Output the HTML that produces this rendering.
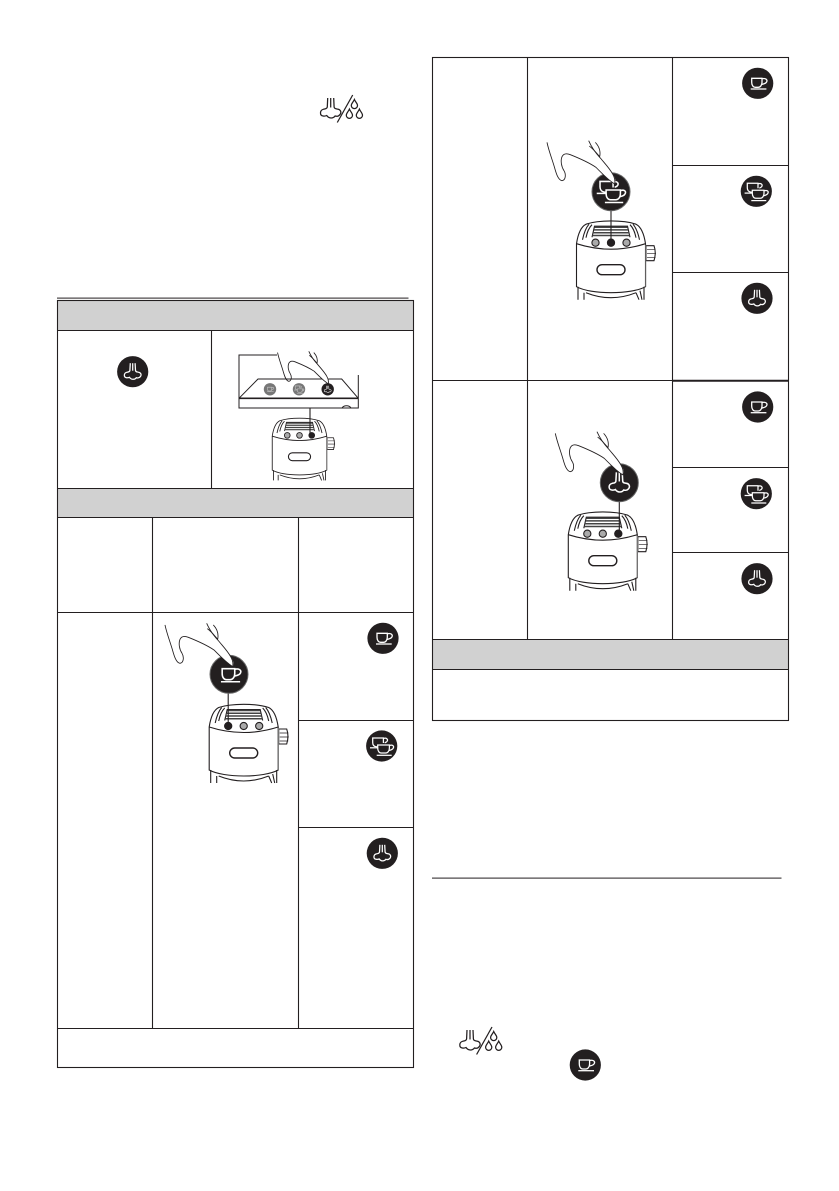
<!DOCTYPE html>
<html>
<head>
<meta charset="utf-8">
<style>
html,body{margin:0;padding:0;background:#fff}
svg{display:block}
</style>
</head>
<body>
<svg xmlns="http://www.w3.org/2000/svg" width="839" height="1191" viewBox="0 0 839 1191">
<defs>
  <g id="cupg" fill="none" stroke="#fff" stroke-width="1.3">
    <path d="M-6,-5 H4.3 V-1 C4.3,2 2.5,4 0.5,4 H-2.5 C-4.5,4 -6,2 -6,-1 Z"/>
    <path d="M4.3,-4.5 C8,-5.5 10,-3.5 9,-1.5 C8,0.5 6,0.5 3.8,1.2"/>
    <path d="M-7,5.7 H8.7"/>
  </g>
  <g id="dblg" fill="none" stroke="#fff" stroke-width="1.25">
    <path d="M1.7,-3 V-8 H-9 V-3.5 C-9,-1 -7.5,0.5 -5.5,0.8 H-4"/>
    <path d="M1.7,-7.5 C4.8,-8.5 6.4,-6.8 5.6,-5 C5,-3.8 4,-3.6 3,-3.2"/>
    <path d="M-11.7,1.8 H-3.5"/>
    <path d="M-4,-1 H7.7 V2 C7.7,5 6,7 4,7 H-0.5 C-2.5,7 -4,5 -4,2 Z"/>
    <path d="M7.7,-0.5 C10.8,-1.5 12.6,0 11.6,2 C10.8,3.8 9.2,4 7.2,4.5"/>
    <path d="M-5,9.3 H10"/>
  </g>
  <g id="steamg" fill="none" stroke="#fff" stroke-width="1.25">
    <path d="M-2.4,-8.5 L-2.8,-1.2 C-3,0.4 -4.5,0.2 -6,0.6 C-9,1.4 -9.2,5.6 -6.2,6 C-5,6.2 -4,6 -3.2,5.6 C-1.5,8.2 2,8.2 3.6,6 C4.8,6.4 6.6,6.2 7.6,5 C9.2,3 8,0.8 5.8,0.5 C4.4,0.2 3,0.4 2.8,-1.2 L2.4,-8.5"/>
    <path d="M0,-8.5 V-1"/>
  </g>
  <g id="icup"><circle r="15.6" fill="#231f20"/><use href="#cupg"/></g>
  <g id="idbl"><circle r="15.6" fill="#231f20"/><use href="#dblg"/></g>
  <g id="istm"><circle r="15.6" fill="#231f20"/><use href="#steamg"/></g>

  <g id="handp" fill="none" stroke="#231f20">
    <path d="M192,118 C212,138 226,156 248,170 C254,160 248,146 238,134 L218,112 Z" fill="#fff" stroke="none"/>
    <path d="M45,45 C50,70 62,100 68,122 C72,136 78,158 90,160 C102,158 102,140 96,130 C88,118 85,100 90,88 C95,78 105,78 115,82 C140,92 170,105 192,120 C210,138 226,156 248,170"/>
    <path d="M170,40 C178,58 190,76 205,92 C218,108 232,122 242,140 C248,150 250,160 248,170"/>
    <path d="M172,56 C180,62 190,72 203,88 C206,74 202,58 190,45"/>
  </g>
  <g id="hand" transform="scale(.3333) translate(-237,-193)" stroke-width="2.6"><use href="#handp"/></g>

  <g id="machine" fill="none" stroke="#231f20" stroke-width="1.1">
    <path d="M-34.5,23 C-33,13 -30,6 -25,3.5 C-12,-0.8 12,-0.8 25,3.5 C30,6 33,13 34.5,23 V66 C20,74 -20,74 -34.5,66 Z" fill="#fff"/>
    <path d="M-34.5,23 Q0,34 34.5,23"/>
    <path d="M-25,17 C-24,12 -22,7 -19,4 M25,17 C24,12 22,7 19,4 M-28.5,19 C-27,12 -25,7 -22,3.5 M28.5,19 C27,12 25,7 22,3.5"/>
    <path d="M-19,16.5 L-16.5,5.5 H16.5 L19,16.5"/>
    <g stroke="#444" stroke-width="1.5">
      <path d="M-16.5,6.5 H16.5 M-17,9.2 H17 M-18,12 H18 M-18.5,14.8 H18.5"/>
    </g>
    <circle cx="-15.5" cy="22" r="3.6" fill="#aaa"/>
    <circle cx="0" cy="22" r="3.6" fill="#aaa"/>
    <circle cx="15.5" cy="22" r="3.6" fill="#aaa"/>
    <rect x="-14" y="44" width="28" height="10" rx="5" stroke-width="1.4"/>
    <path d="M35,25 H43 Q45.5,32 43,40 H35 Z" fill="#fff"/>
    <path d="M36,29 H44.5 M36,33 H45 M36,37 H44.5" stroke-width=".7"/>
    <path d="M-33,66 V79 M33,66 V79 M-25,72 Q0,82 25,72 M-27,72 V79 M25,72 L28,79 M29,70 L31,79"/>
    <path d="M34.8,24 V66" stroke="#888" stroke-width=".8"/>
  </g>

  <g id="nozzledrops" fill="none" stroke="#231f20" stroke-width="1.25">
    <path d="M-3,-10.5 L-3.4,-1.6 C-3.6,0.4 -5.5,0.2 -7.4,0.8 C-11,1.8 -11.2,7 -7.6,7.5 C-6.2,7.7 -5,7.5 -4,7 C-1.8,10.2 2.4,10.2 4.4,7.5 C6,8 8,7.7 9.2,6.2 C11.2,3.8 9.8,1 7,0.6 C5.4,0.3 3.6,0.4 3.4,-1.6 L3,-10.5"/>
    <path d="M0,-10.5 V-1"/>
    <path d="M22,-13.5 L6.6,14"/>
    <path d="M23.7,-9 C24.8,-6.4 26.8,-5 26.8,-3 A3.1,3.1 0 0 1 20.6,-3 C20.6,-5 22.6,-6.4 23.7,-9 Z"/>
    <path d="M18.7,0.6 C19.8,3.2 21.8,4.6 21.8,6.8 A3.1,3.1 0 0 1 15.6,6.8 C15.6,4.6 17.6,3.2 18.7,0.6 Z"/>
    <path d="M28.7,0.6 C29.8,3.2 31.8,4.6 31.8,6.8 A3.1,3.1 0 0 1 25.6,6.8 C25.6,4.6 27.6,3.2 28.7,0.6 Z"/>
  </g>
</defs>

<rect width="839" height="1191" fill="#fff"/>

<!-- top-left symbol -->
<use href="#nozzledrops" x="330.7" y="108.5"/>

<!-- left table -->
<rect x="57" y="297.6" width="351.5" height="1" fill="#231f20"/>
<rect x="57.5" y="300.5" width="356" height="30" fill="#d1d1d1"/>
<rect x="57.5" y="488.5" width="356" height="29" fill="#d1d1d1"/>
<g stroke="#231f20" stroke-width="1.1" fill="none">
  <rect x="57.5" y="300.5" width="356" height="767"/>
  <path d="M57.5,330.5 H413.5 M57.5,488.5 H413.5 M57.5,517.5 H413.5 M57.5,612.5 H413.5 M57.5,1028.5 H413.5"/>
  <path d="M211.5,330.5 V488.5 M152.5,517.5 V1028.5 M298.5,517.5 V1028.5"/>
  <path d="M298.5,720.5 H413.5 M298.5,827.5 H413.5"/>
</g>

<!-- panel illustration -->
<g fill="none" stroke="#231f20" stroke-width="1">
  <path d="M277,355 H239 V408 H358.3 V375"/>
  <path d="M239,398.3 L258,379 H341.7 L358.3,398.3"/>
  <path d="M239,398.3 H358.3" stroke-width="1.6"/>
  <path d="M342,408 A5,4 0 0 1 351,408"/>
</g>
<circle cx="270" cy="389.3" r="6.2" fill="#777"/>
<circle cx="299" cy="389.3" r="6.2" fill="#777"/>
<circle cx="327.7" cy="389.3" r="6.2" fill="#231f20"/>
<g transform="translate(270,389.3) scale(.42)" opacity=".6"><use href="#cupg"/></g>
<g transform="translate(299,389.3) scale(.42)" opacity=".6"><use href="#dblg"/></g>
<g transform="translate(327.7,389.3) scale(.42)"><use href="#steamg"/></g>
<g transform="translate(328.3,383.3) scale(.25) translate(-248,-168)" stroke-width="3.4"><use href="#handp"/></g>
<g transform="translate(299.5,418) scale(.79)"><use href="#machine"/><circle cx="15.5" cy="22" r="3.9" fill="#231f20"/></g>
<path d="M310,408 V435" stroke="#231f20" stroke-width="1.1"/>

<use href="#istm" x="132.7" y="371.7"/>

<!-- left row illustration -->
<g transform="translate(243.7,704)"><use href="#machine"/><circle cx="-15.5" cy="22" r="3.9" fill="#231f20"/></g>
<path d="M228.2,692 V726" stroke="#231f20" stroke-width="1.1"/>
<g transform="translate(229,674.3)">
  <circle r="19" fill="#231f20" stroke="#666" stroke-width="1"/>
  <g transform="translate(.5,.5) scale(1.22)"><use href="#cupg"/></g>
  <use href="#hand"/>
</g>
<use href="#icup" x="383" y="638.3"/>
<use href="#idbl" x="381.7" y="746"/>
<use href="#istm" x="382.3" y="853.3"/>

<!-- right table -->
<rect x="432.5" y="639.5" width="356" height="30" fill="#d1d1d1"/>
<g stroke="#231f20" stroke-width="1.1" fill="none">
  <rect x="432.5" y="57.5" width="356" height="663"/>
  <path d="M527.5,57.5 V639.5 M672.5,57.5 V639.5"/>
  <path d="M672.5,165.5 H788.5 M672.5,272.5 H788.5 M672.5,467.5 H788.5 M672.5,552.5 H788.5"/>
  <path d="M432.5,380.5 H672.5"/>
  <path d="M672.5,380.7 H788.5" stroke-width="2"/>
  <path d="M432.5,639.5 H788.5 M432.5,669.5 H788.5"/>
</g>

<g transform="translate(611,220.7)"><use href="#machine"/><circle cx="0" cy="22" r="3.9" fill="#231f20"/></g>
<path d="M611,209 V243" stroke="#231f20" stroke-width="1.1"/>
<g transform="translate(611,191.7)">
  <circle r="19" fill="#231f20" stroke="#666" stroke-width="1"/>
  <g transform="translate(0,-.5) scale(1.22)"><use href="#dblg"/></g>
  <use href="#hand"/>
</g>
<use href="#icup" x="757.7" y="83.3"/>
<use href="#idbl" x="756.3" y="191.3"/>
<use href="#istm" x="757" y="298.3"/>

<g transform="translate(602.8,511.7)"><use href="#machine"/><circle cx="15.5" cy="22" r="3.9" fill="#231f20"/></g>
<path d="M619.3,500 V534" stroke="#231f20" stroke-width="1.1"/>
<g transform="translate(619.3,482.7)">
  <circle r="19" fill="#231f20" stroke="#666" stroke-width="1"/>
  <g transform="scale(1.22)"><use href="#steamg"/></g>
  <use href="#hand"/>
</g>
<use href="#icup" x="757.7" y="407"/>
<use href="#idbl" x="756.3" y="493.7"/>
<use href="#istm" x="757" y="578.7"/>

<!-- lower rule -->
<rect x="432" y="877.6" width="349.5" height="1" fill="#231f20"/>

<!-- bottom symbols -->
<use href="#nozzledrops" x="470" y="1040.5"/>
<use href="#icup" x="585.3" y="1065"/>
</svg>
</body>
</html>
